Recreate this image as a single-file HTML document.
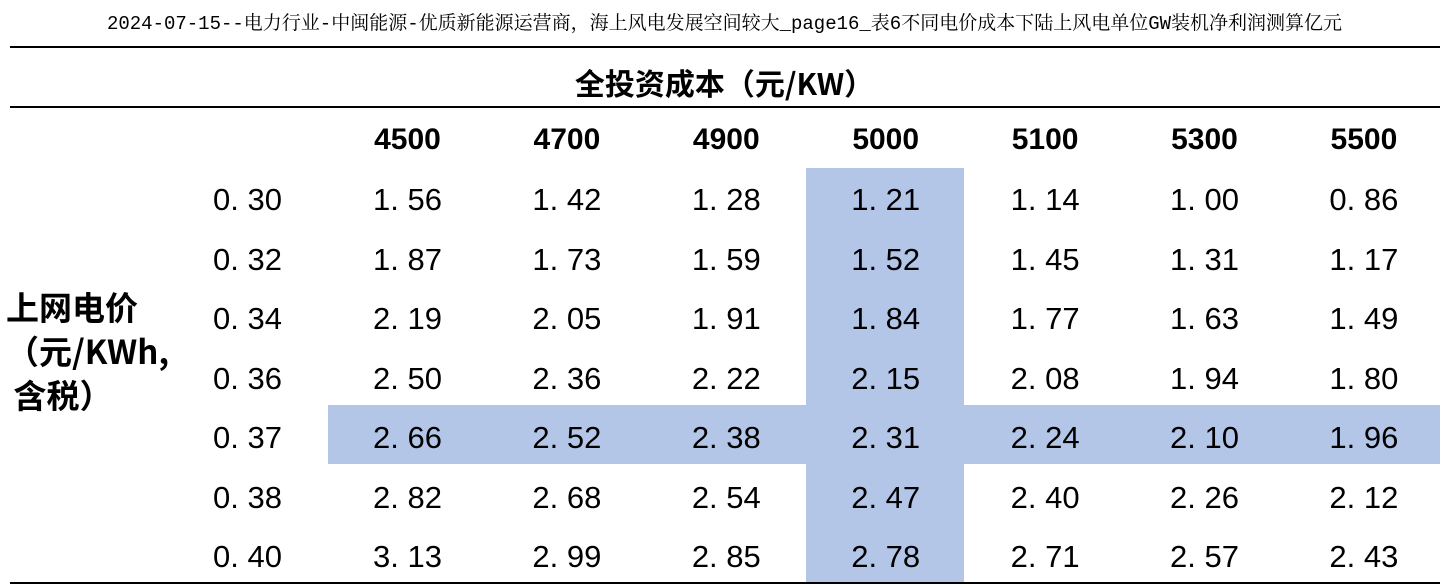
<!DOCTYPE html>
<html><head><meta charset="utf-8"><style>
body{margin:0;width:1449px;height:586px;background:#fff;position:relative;overflow:hidden;font-family:"Liberation Sans","Noto Sans CJK SC",sans-serif;color:#000}
.a{position:absolute}
.t{left:0;width:1449px;top:8px;text-align:center;font-family:"Liberation Mono","Noto Serif CJK SC",monospace;font-size:19px;white-space:nowrap}
.ln{left:10px;width:1430px;height:2px;background:#000}
.hl{background:#b4c6e7}
.cell{position:absolute;width:159px;text-align:center;font-family:"Liberation Sans",sans-serif;font-size:31px;line-height:40px;white-space:pre}
.ch{position:absolute;width:159px;text-align:center;font-size:30px;font-weight:bold;line-height:40px}
</style></head><body>
<div class="a t">2024-07-15--电力行业-中闽能源-优质新能源运营商，海上风电发展空间较大_page16_表6不同电价成本下陆上风电单位GW装机净利润测算亿元</div>
<div class="a ln" style="top:46px"></div>
<div class="a" style="left:0;width:1449px;top:60px;text-align:center;font-size:30px;font-weight:bold;font-family:'Noto Sans CJK SC',sans-serif">全投资成本（元/KW）</div>
<div class="a ln" style="top:106px;height:1.5px"></div>
<div class="a hl" style="left:806px;width:158px;top:168px;height:415px"></div>
<div class="a hl" style="left:328px;width:1112px;top:405px;height:59px"></div>
<div class="a" style="left:6px;top:284px;font-size:33px;font-weight:bold;line-height:44px;font-family:'Noto Sans CJK SC',sans-serif;white-space:nowrap">上网电价<br>（元/KWh,<br>&nbsp;含税）</div>
<div id="tbl"></div>
<div class="a ln" style="top:582px"></div>
<script>
const costs=["4500","4700","4900","5000","5100","5300","5500"];
const prices=["0.30","0.32","0.34","0.36","0.37","0.38","0.40"];
const values=[
["1.56","1.42","1.28","1.21","1.14","1.00","0.86"],
["1.87","1.73","1.59","1.52","1.45","1.31","1.17"],
["2.19","2.05","1.91","1.84","1.77","1.63","1.49"],
["2.50","2.36","2.22","2.15","2.08","1.94","1.80"],
["2.66","2.52","2.38","2.31","2.24","2.10","1.96"],
["2.82","2.68","2.54","2.47","2.40","2.26","2.12"],
["3.13","2.99","2.85","2.78","2.71","2.57","2.43"]];
const t=document.getElementById('tbl');
const colX=i=>328+i*159.4, rowY=j=>180+j*59.5;
const sp=s=>s.replace('.','. ');
costs.forEach((c,i)=>{const d=document.createElement('div');d.className='ch';d.style.left=colX(i)+'px';d.style.top='120px';d.textContent=c;


t.appendChild(d);});
prices.forEach((p,j)=>{const d=document.createElement('div');d.className='cell';d.style.left='168px';d.style.top=rowY(j)+'px';d.textContent=sp(p);


t.appendChild(d);
values[j].forEach((v,i)=>{const e=document.createElement('div');e.className='cell';e.style.left=colX(i)+'px';e.style.top=rowY(j)+'px';e.textContent=sp(v);


t.appendChild(e);});});
</script>
</body></html>
